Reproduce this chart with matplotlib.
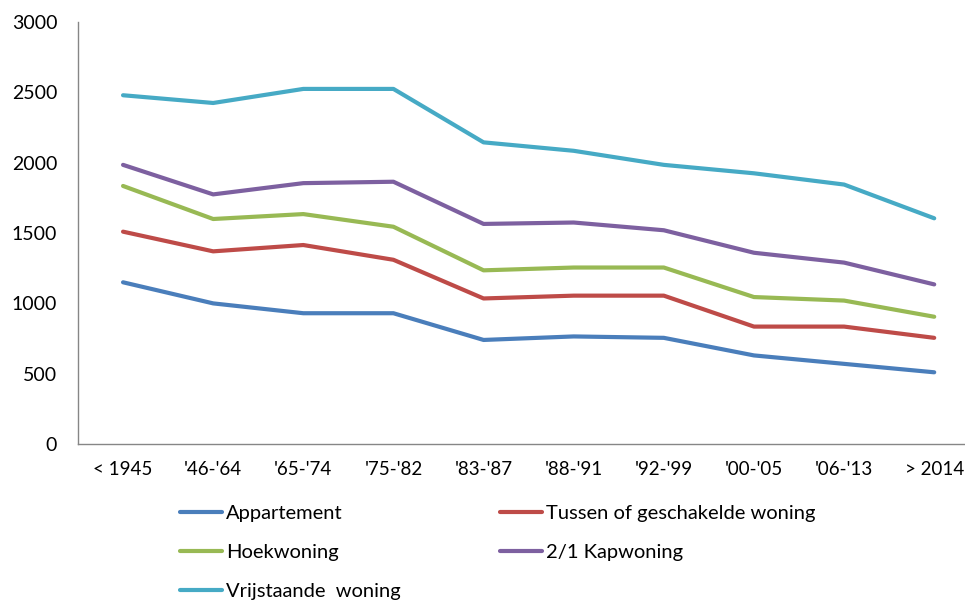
import matplotlib.pyplot as plt

periods = ["< 1945", "'46-'64", "'65-'74", "'75-'82", "'83-'87",
           "'88-'91", "'92-'99", "'00-'05", "'06-'13", "> 2014"]
appartement = [1150, 1000, 930, 930, 740, 765, 755, 630, 570, 510]
tussen = [1510, 1370, 1415, 1310, 1035, 1055, 1055, 835, 835, 755]
hoekwoning = [1835, 1600, 1635, 1545, 1235, 1255, 1255, 1045, 1020, 905]
kapwoning = [1985, 1775, 1855, 1865, 1565, 1575, 1520, 1360, 1290, 1135]
vrijstaand = [2480, 2425, 2525, 2525, 2145, 2085, 1985, 1925, 1845, 1605]

series = [
    ("Appartement", appartement, "#4A7EBB"),
    ("Tussen of geschakelde woning", tussen, "#BE4B48"),
    ("Hoekwoning", hoekwoning, "#98B954"),
    ("2/1 Kapwoning", kapwoning, "#7D60A0"),
    ("Vrijstaande  woning", vrijstaand, "#46AAC5"),
]

plt.rcParams["font.family"] = ["Lato", "DejaVu Sans"]

fig = plt.figure(figsize=(9.65, 6.01), dpi=100)
ax = fig.add_axes([0.0808, 0.2612, 0.934, 0.702])

x = range(len(periods))
handles = {}
for name, values, color in series:
    (line,) = ax.plot(x, values, color=color, linewidth=3,
                      solid_capstyle="round", solid_joinstyle="round", label=name)
    handles[name] = line

ax.set_xlim(-0.5, len(periods) - 0.5)
ax.set_ylim(0, 3000)
ax.set_yticks(range(0, 3001, 500))
ax.set_xticks(list(x))
ax.set_xticklabels(periods)
ax.tick_params(axis="y", length=0, pad=15, labelsize=14)
ax.tick_params(axis="x", length=0, pad=12, labelsize=13.5)
for side in ("top", "right"):
    ax.spines[side].set_visible(False)
for side in ("left", "bottom"):
    ax.spines[side].set_color("#868686")
    ax.spines[side].set_linewidth(1)

# two single-column legends so the rows read left to right like the original
leg_kw = dict(frameon=False, fontsize=14.5, handlelength=2.1, handletextpad=0.2,
              labelspacing=1.08, borderpad=0, borderaxespad=0, loc="upper left")
col1 = [handles["Appartement"], handles["Hoekwoning"], handles["Vrijstaande  woning"]]
col2 = [handles["Tussen of geschakelde woning"], handles["2/1 Kapwoning"]]
fig.legend(handles=col1, bbox_to_anchor=(180 / 965, 1 - 505 / 601), **leg_kw)
fig.legend(handles=col2, bbox_to_anchor=(500 / 965, 1 - 505 / 601), **leg_kw)

fig.savefig("out.png", dpi=100)
